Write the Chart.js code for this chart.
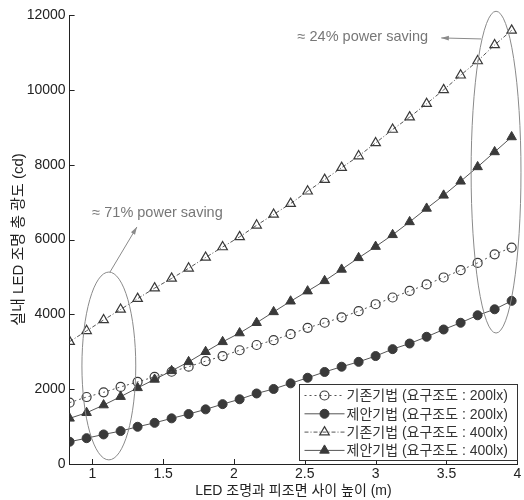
<!DOCTYPE html>
<html>
<head>
<meta charset="utf-8">
<script src="https://cdn.jsdelivr.net/npm/chart.js@4"></script>
<style>
  html, body { margin: 0; padding: 0; background: #fff; }
  #wrap { width: 524px; height: 500px; }
</style>
</head>
<body>
<div id="wrap"><canvas id="chart" width="524" height="500"></canvas></div>
<script>
// 높이 (m)
const heights = [0.84, 0.96, 1.08, 1.2, 1.32, 1.44, 1.56, 1.68, 1.8, 1.92, 2.04, 2.16, 2.28, 2.4,
  2.52, 2.64, 2.76, 2.88, 3, 3.12, 3.24, 3.36, 3.48, 3.6, 3.72, 3.84, 3.96];

// 총 광도 (cd)
const old200 = [1640, 1790, 1915, 2060, 2195, 2330, 2465, 2600, 2750, 2885, 3040, 3180, 3310, 3470,
  3640, 3775, 3920, 4085, 4270, 4450, 4625, 4800, 4985, 5180, 5375, 5605, 5785];
const new200 = [595, 690, 790, 880, 995, 1100, 1220, 1335, 1460, 1600, 1730, 1885, 2005, 2155,
  2305, 2460, 2600, 2730, 2885, 3070, 3220, 3400, 3595, 3775, 3975, 4135, 4360];
const old400 = [3270, 3560, 3850, 4130, 4420, 4700, 4960, 5230, 5520, 5800, 6070, 6380, 6670, 6960,
  7290, 7600, 7920, 8230, 8580, 8940, 9270, 9630, 10000, 10390, 10770, 11200, 11590];
const new400 = [1220, 1370, 1575, 1800, 2035, 2260, 2490, 2730, 3000, 3265, 3500, 3775, 4065, 4350,
  4620, 4895, 5200, 5510, 5810, 6125, 6470, 6830, 7180, 7555, 7940, 8340, 8740];

const labels = ['기존기법 (요구조도 : 200lx)', '제안기법 (요구조도 : 200lx)',
  '기존기법 (요구조도 : 400lx)', '제안기법 (요구조도 : 400lx)'];

const xTicks = [1, 1.5, 2, 2.5, 3, 3.5, 4];
const yTicks = [0, 2000, 4000, 6000, 8000, 10000, 12000];

const FONT = '"Liberation Sans", Arial, "Noto Sans CJK KR", sans-serif';
const LINE = '#555';
const MARK = '#3a3a3a';
const NOTE = '#8a8a8a';

const pts = arr => arr.map((v, i) => ({ x: heights[i], y: v }));

// 주석 (데이터 좌표)
const notes = {
  ellipses: [
    { cx: 1.117, cy: 2620, rx: 0.19, ry: 2510 },
    { cx: 3.85, cy: 7800, rx: 0.176, ry: 4300 }
  ],
  arrows: [
    { x1: 1.125, y1: 5130, x2: 1.315, y2: 6335 },
    { x1: 3.745, y1: 11360, x2: 3.463, y2: 11387 }
  ],
  texts: [
    { x: 1.0, y: 6700, text: '≈ 71% power saving', align: 'left' },
    { x: 3.37, y: 11413, text: '≈ 24% power saving', align: 'right' }
  ]
};

const annotate = {
  id: 'annotate',
  afterDraw(chart) {
    const { ctx, chartArea: a, scales: { x, y } } = chart;
    ctx.save();

    // 안쪽 눈금
    ctx.strokeStyle = '#222';
    ctx.lineWidth = 1;
    ctx.beginPath();
    xTicks.forEach(t => {
      const px = Math.round(x.getPixelForValue(t)) + 0.5;
      ctx.moveTo(px, a.bottom); ctx.lineTo(px, a.bottom - 5);
    });
    yTicks.forEach(t => {
      const py = Math.round(y.getPixelForValue(t)) + 0.5;
      ctx.moveTo(a.left, py); ctx.lineTo(a.left + 5, py);
    });
    ctx.stroke();

    // 타원
    ctx.strokeStyle = NOTE;
    notes.ellipses.forEach(e => {
      const cx = x.getPixelForValue(e.cx), cy = y.getPixelForValue(e.cy);
      const rx = x.getPixelForValue(e.cx + e.rx) - cx;
      const ry = cy - y.getPixelForValue(e.cy + e.ry);
      ctx.beginPath();
      ctx.ellipse(cx, cy, rx, ry, 0, 0, Math.PI * 2);
      ctx.stroke();
    });

    // 화살표
    ctx.fillStyle = NOTE;
    notes.arrows.forEach(ar => {
      const x1 = x.getPixelForValue(ar.x1), y1 = y.getPixelForValue(ar.y1);
      const x2 = x.getPixelForValue(ar.x2), y2 = y.getPixelForValue(ar.y2);
      const ang = Math.atan2(y2 - y1, x2 - x1);
      ctx.beginPath();
      ctx.moveTo(x1, y1); ctx.lineTo(x2, y2);
      ctx.stroke();
      ctx.beginPath();
      ctx.moveTo(x2, y2);
      ctx.lineTo(x2 - 8 * Math.cos(ang - 0.3), y2 - 8 * Math.sin(ang - 0.3));
      ctx.lineTo(x2 - 8 * Math.cos(ang + 0.3), y2 - 8 * Math.sin(ang + 0.3));
      ctx.closePath();
      ctx.fill();
    });

    ctx.fillStyle = '#777';
    ctx.font = '14.5px ' + FONT;
    ctx.textBaseline = 'middle';
    notes.texts.forEach(t => {
      ctx.textAlign = t.align;
      ctx.fillText(t.text, x.getPixelForValue(t.x), y.getPixelForValue(t.y));
    });

    // 범례
    const bx = 299.5, by = 384.5, bw = 218, bh = 76, rowH = 18.3;
    ctx.fillStyle = '#fff';
    ctx.fillRect(bx, by, bw, bh);
    ctx.strokeStyle = '#333';
    ctx.strokeRect(bx, by, bw, bh);
    ctx.font = '14px ' + FONT;
    ctx.textAlign = 'left';
    chart.data.datasets.forEach((ds, i) => {
      const ry = by + 11 + i * rowH;
      ctx.save();
      ctx.strokeStyle = ds.borderColor;
      ctx.lineWidth = 1;
      ctx.setLineDash(ds.borderDash || []);
      ctx.beginPath();
      ctx.moveTo(bx + 5, ry); ctx.lineTo(bx + 45, ry);
      ctx.stroke();
      ctx.setLineDash([]);
      ctx.strokeStyle = ds.pointBorderColor;
      ctx.fillStyle = ds.pointBackgroundColor;
      ctx.lineWidth = ds.pointBorderWidth;
      Chart.helpers.drawPoint(ctx, { pointStyle: ds.pointStyle, radius: ds.pointRadius, rotation: 0, borderWidth: ds.pointBorderWidth }, bx + 25, ry);
      ctx.restore();
      ctx.fillStyle = '#333';
      ctx.fillText(ds.label, bx + 47, ry + 1);
    });
    ctx.restore();
  }
};

new Chart(document.getElementById('chart'), {
  type: 'line',
  data: {
    datasets: [
      { label: labels[0], data: pts(old200), borderColor: LINE, borderWidth: 1, borderDash: [2, 3],
        pointStyle: 'circle', pointRadius: 4.5, pointBackgroundColor: 'rgba(255,255,255,0)', pointBorderColor: MARK, pointBorderWidth: 1.2 },
      { label: labels[1], data: pts(new200), borderColor: LINE, borderWidth: 1,
        pointStyle: 'circle', pointRadius: 4.5, pointBackgroundColor: MARK, pointBorderColor: MARK, pointBorderWidth: 1 },
      { label: labels[2], data: pts(old400), borderColor: LINE, borderWidth: 1, borderDash: [4, 2, 1, 2],
        pointStyle: 'triangle', pointRadius: 5.5, pointBackgroundColor: 'rgba(255,255,255,0)', pointBorderColor: MARK, pointBorderWidth: 1.2 },
      { label: labels[3], data: pts(new400), borderColor: LINE, borderWidth: 1,
        pointStyle: 'triangle', pointRadius: 5.5, pointBackgroundColor: MARK, pointBorderColor: MARK, pointBorderWidth: 1 }
    ]
  },
  options: {
    responsive: false,
    animation: false,
    layout: { padding: { top: 15, right: 4, left: 0, bottom: 0 } },
    plugins: { legend: { display: false }, tooltip: { enabled: false } },
    scales: {
      x: {
        type: 'linear', min: 0.84, max: 4,
        afterBuildTicks: s => { s.ticks = xTicks.map(v => ({ value: v })); },
        afterFit: s => { s.height = 36; },
        grid: { display: false, drawTicks: false, tickLength: 0 },
        border: { display: true, color: '#222', width: 1 },
        ticks: { color: '#222', font: { family: FONT, size: 14 }, padding: 2, maxRotation: 0,
          callback: v => String(v) },
        title: { display: true, text: 'LED 조명과 피조면 사이 높이 (m)', color: '#222',
          font: { family: FONT, size: 14 }, padding: { top: 0, bottom: 0 } }
      },
      y: {
        min: 0, max: 12000,
        afterBuildTicks: s => { s.ticks = yTicks.map(v => ({ value: v })); },
        afterFit: s => { s.width = 69.6; },
        grid: { display: false, drawTicks: false, tickLength: 0 },
        border: { display: true, color: '#222', width: 1 },
        ticks: { color: '#222', font: { family: FONT, size: 14 }, padding: 4, callback: v => String(v) },
        title: { display: true, text: '실내 LED 조명 총 광도 (cd)', color: '#222',
          font: { family: FONT, size: 15 }, padding: { top: 10, bottom: 4 } }
      }
    }
  },
  plugins: [annotate]
});
</script>
</body>
</html>
